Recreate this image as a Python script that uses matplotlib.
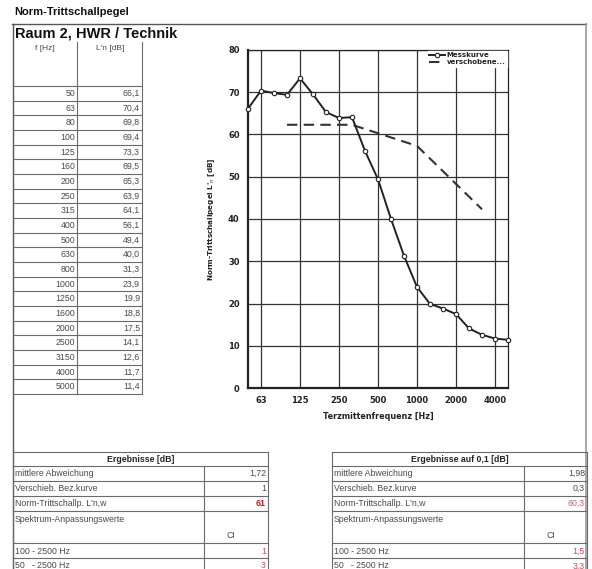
import matplotlib
matplotlib.use("Agg")
import matplotlib.pyplot as plt
from matplotlib.lines import Line2D

W, H = 592, 569

freqs = [50, 63, 80, 100, 125, 160, 200, 250, 315, 400, 500, 630, 800,
         1000, 1250, 1600, 2000, 2500, 3150, 4000, 5000]
ln_values = [66.1, 70.4, 69.8, 69.4, 73.3, 69.5, 65.3, 63.9, 64.1, 56.1, 49.4,
             40.0, 31.3, 23.9, 19.9, 18.8, 17.5, 14.1, 12.6, 11.7, 11.4]
ref_freqs = [100, 125, 160, 200, 250, 315, 400, 500, 630, 800, 1000,
             1250, 1600, 2000, 2500, 3150]
ref_values = [62.3, 62.3, 62.3, 62.3, 62.3, 62.3, 61.3, 60.3, 59.3, 58.3, 57.3,
              54.3, 51.3, 48.3, 45.3, 42.3]
tick_freqs = [63, 125, 250, 500, 1000, 2000, 4000]

res_labels = ["mittlere Abweichung", "Verschieb. Bez.kurve", "Norm-Trittschallp. L'n,w"]
res_left = ["1,72", "1", "61"]
res_right = ["1,98", "0,3", "60,3"]
ci_labels = ["100 - 2500 Hz", "50   - 2500 Hz"]
ci_left = ["1", "3"]
ci_right = ["1,5", "3,3"]

TXT = "#4a4a4a"
LINE = "#6a6a6a"
FONT = "Liberation Sans"


def fx(x):
    return x / W


def fy(y):
    return 1 - y / H


def hline(fig, x0, x1, y, color=LINE, lw=0.8):
    fig.add_artist(Line2D([fx(x0), fx(x1)], [fy(y), fy(y)], color=color, lw=lw,
                          transform=fig.transFigure))


def vline(fig, x, y0, y1, color=LINE, lw=0.8):
    fig.add_artist(Line2D([fx(x), fx(x)], [fy(y0), fy(y1)], color=color, lw=lw,
                          transform=fig.transFigure))


def txt(fig, x, y, s, ha="left", size=6.3, color=TXT, weight="normal"):
    fig.text(fx(x), fy(y), s, ha=ha, va="center", fontsize=size, color=color,
             family=FONT, fontweight=weight)


fig = plt.figure(figsize=(W / 100, H / 100), dpi=100)

# page frame and titles
txt(fig, 14, 12, "Norm-Trittschallpegel", size=8, color="#111111", weight="bold")
txt(fig, 15, 33, "Raum 2, HWR / Technik", size=10.5, color="#111111", weight="bold")
hline(fig, 12, 586, 24, color="#555555", lw=1.0)
vline(fig, 13, 24, 569, color="#555555", lw=1.0)
vline(fig, 586, 24, 569, color="#999999", lw=1.2)

# left value table
tab_top, head_bot, row_h = 42, 86, 14.67
vline(fig, 77, tab_top, head_bot + row_h * len(freqs))
vline(fig, 142, tab_top, head_bot + row_h * len(freqs))
hline(fig, 13, 142, head_bot)
txt(fig, 45, 49, "f [Hz]", ha="center", size=6)
txt(fig, 110, 49, "L'n [dB]", ha="center", size=6)
for i, (f, v) in enumerate(zip(freqs, ln_values)):
    y = head_bot + row_h * (i + 0.5)
    txt(fig, 75, y, str(f), ha="right")
    txt(fig, 140, y, f"{v:.1f}".replace(".", ","), ha="right")
    hline(fig, 13, 142, head_bot + row_h * (i + 1))

# chart
ax = fig.add_axes([fx(248), fy(388), fx(508) - fx(248), (388 - 50) / H])
x_meas = [freqs.index(f) for f in freqs]
x_ref = [freqs.index(f) for f in ref_freqs]
ax.plot(x_meas, ln_values, color="#222222", lw=1.4, marker="o", ms=3.2,
        mfc="white", mec="#222222", mew=0.8, label="Messkurve", clip_on=False, zorder=4)
ax.plot(x_ref, ref_values, color="#333333", lw=1.5, ls=(0, (5, 3)),
        label="verschobene...", zorder=3)
ax.set_xlim(0, len(freqs) - 1)
ax.set_ylim(0, 80)
ax.set_yticks(range(0, 81, 10))
ax.set_xticks([freqs.index(f) for f in tick_freqs])
ax.set_xticklabels([str(f) for f in tick_freqs])
ax.grid(True, color="#333333", lw=0.9)
ax.tick_params(length=0, labelsize=6, colors="#222222", pad=6)
for lab in ax.get_xticklabels() + ax.get_yticklabels():
    lab.set_fontweight("bold")
for s in ax.spines.values():
    s.set_color("#222222")
    s.set_linewidth(0.9)
ax.spines["left"].set_linewidth(1.6)
ax.spines["bottom"].set_linewidth(1.6)
ax.set_xlabel("Terzmittenfrequenz [Hz]", fontsize=5.8, fontweight="bold",
              color="#222222", labelpad=5)
ax.set_ylabel("Norm-Trittschallpegel L'$_\\mathrm{n}$ [dB]", fontsize=5.2,
              fontweight="bold", color="#222222", labelpad=8)
leg = ax.legend(loc="upper right", fontsize=5, frameon=True, fancybox=False,
                borderpad=0.2, handlelength=2.2, labelspacing=0.1,
                handletextpad=0.3, borderaxespad=0.15)
leg.get_frame().set_edgecolor("white")
leg.get_frame().set_alpha(1)
for t in leg.get_texts():
    t.set_fontweight("bold")
    t.set_color("#222222")


# result tables
def result_table(x0, x1, xd, title, values, ci_vals, lw_bold):
    hline(fig, x0, x1, 452)
    txt(fig, (x0 + x1) / 2, 459, title, ha="center", size=6.3, color="#222222",
        weight="bold")
    rows = [466, 481, 496, 511, 543, 558]
    for y in rows:
        hline(fig, x0, x1, y)
    vline(fig, x0, 452, 569)
    vline(fig, x1, 452, 569)
    vline(fig, xd, 466, 569)
    colors = [TXT, TXT, "#d0182a" if lw_bold else "#d45a6a"]
    weights = ["normal", "normal", "bold" if lw_bold else "normal"]
    for i, (lab, v) in enumerate(zip(res_labels, values)):
        y = rows[i] + 7.5
        txt(fig, x0 + 2, y, lab)
        txt(fig, x1 - 2, y, v, ha="right", color=colors[i], weight=weights[i])
    txt(fig, x0 + 2, 519, "Spektrum-Anpassungswerte")
    txt(fig, (xd + x1) / 2 - 5, 535, "CI", ha="center")
    for i, (lab, v) in enumerate(zip(ci_labels, ci_vals)):
        y = rows[4] + 8 + 15 * i
        txt(fig, x0 + 2, y, lab)
        txt(fig, x1 - 2, y, v, ha="right", color="#d44a5a")


result_table(13, 268, 204, "Ergebnisse [dB]", res_left, ci_left, True)
result_table(332, 587, 524, "Ergebnisse auf 0,1 [dB]", res_right, ci_right, False)

fig.savefig("out.png", dpi=100)
